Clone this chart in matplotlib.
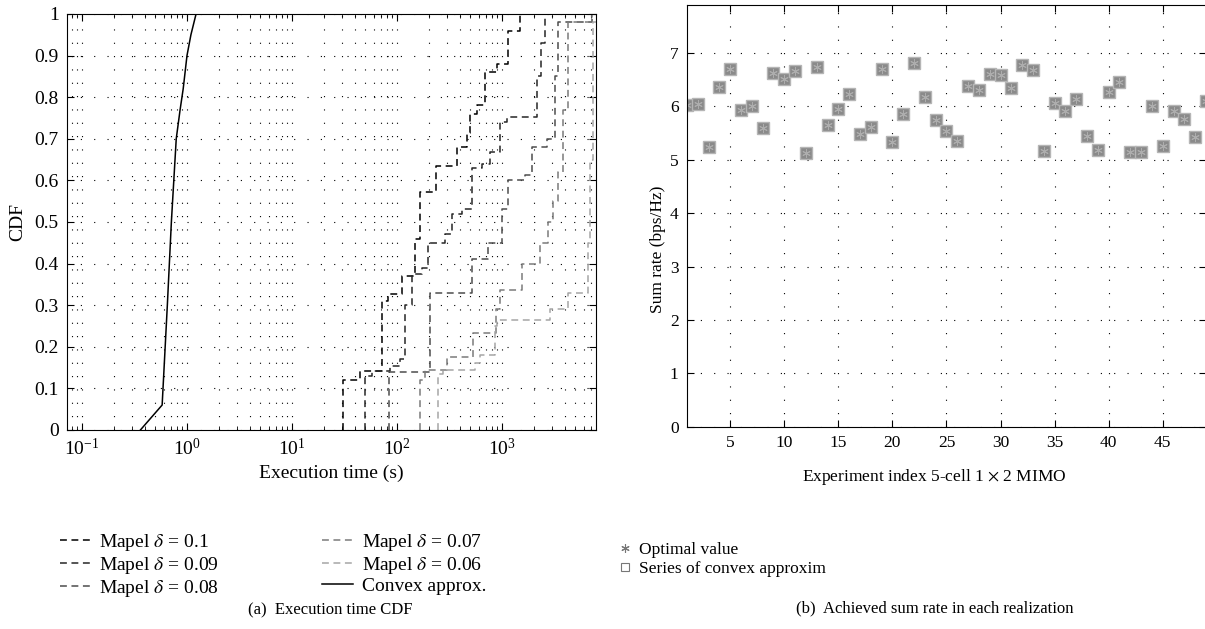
import numpy as np
import matplotlib
matplotlib.use("Agg")
import matplotlib.pyplot as plt
from matplotlib.lines import Line2D

plt.rcParams['font.family'] = 'serif'
plt.rcParams['font.serif'] = ['Liberation Serif', 'DejaVu Serif']
plt.rcParams['mathtext.fontset'] = 'stix'
plt.rcParams['font.size'] = 14

# ---- left panel: execution time CDF (time in s, CDF level after each step)
t_d010 = [30.6, 44.4, 72, 82, 112, 148, 166, 235, 373, 464, 496, 578, 689, 896, 1140, 1483]
c_d010 = [0.12, 0.142, 0.31, 0.327, 0.37, 0.46, 0.573, 0.635, 0.68, 0.715, 0.76, 0.78, 0.86, 0.88, 0.96, 1.0]

t_d009 = [49.6, 57.8, 85.8, 107, 119, 139, 173, 197, 286, 334, 416, 518, 645, 769, 957, 1116, 2154, 2350, 2570]
c_d009 = [0.13, 0.142, 0.155, 0.17, 0.30, 0.375, 0.39, 0.45, 0.47, 0.52, 0.53, 0.63, 0.64, 0.668, 0.74, 0.753, 0.85, 0.93, 1.0]

t_d008 = [83.9, 206, 518, 736, 1000, 1140, 1656, 1931, 2683, 3199, 3415, 7197]
c_d008 = [0.14, 0.33, 0.41, 0.45, 0.53, 0.60, 0.613, 0.68, 0.70, 0.85, 0.98, 1.0]

t_d007 = [166, 185, 299, 529, 877, 957, 1549, 2300, 2742, 3060, 3415, 3811, 4256, 7197]
c_d007 = [0.12, 0.144, 0.176, 0.233, 0.29, 0.336, 0.40, 0.45, 0.50, 0.55, 0.62, 0.77, 0.98, 1.0]

t_d006 = [245, 274, 553, 617, 857, 896, 2865, 4256, 6590, 6890, 7360]
c_d006 = [0.135, 0.144, 0.16, 0.18, 0.25, 0.265, 0.29, 0.33, 0.45, 0.65, 0.98]

t_cvx = [0.36, 0.58, 0.65, 0.71, 0.79, 0.86, 0.92, 1.0, 1.09, 1.22, 8000]
c_cvx = [0.0, 0.06, 0.3, 0.5, 0.7, 0.77, 0.82, 0.9, 0.95, 1.0, 1.0]

mapel_labels = ['0.1', '0.09', '0.08', '0.07', '0.06']
mapel_colors = ['#000000', '#262626', '#4d4d4d', '#7a7a7a', '#a6a6a6']

# ---- right panel: sum rate per experiment
idx = np.arange(1, 50)
rate = [6.02, 6.04, 5.24, 6.37, 6.70, 5.94, 6.00, 5.59, 6.62, 6.52,
        6.66, 5.12, 6.73, 5.65, 5.96, 6.23, 5.49, 5.62, 6.71, 5.33,
        5.86, 6.82, 6.17, 5.75, 5.54, 5.36, 6.39, 6.30, 6.61, 6.58,
        6.34, 6.77, 6.69, 5.17, 6.06, 5.91, 6.14, 5.44, 5.19, 6.28,
        6.46, 5.14, 5.14, 6.00, 5.26, 5.92, 5.76, 5.42, 6.10]

fig = plt.figure(figsize=(12.05, 6.29), dpi=100)
dots = (0, (1, 11))
dash = (0, (4.5, 3))

ax1 = fig.add_axes([0.0556, 0.3164, 0.4390, 0.6614])
series = [(t_d010, c_d010), (t_d009, c_d009), (t_d008, c_d008),
          (t_d007, c_d007), (t_d006, c_d006)]
handles = []
for (t, c), lab, col in zip(series, mapel_labels, mapel_colors):
    x = [t[0]] + list(t) + [1e5]
    y = [0.0] + list(c) + [c[-1]]
    ax1.step(x, y, where='post', color=col, lw=1.1, linestyle=dash)
    handles.append(Line2D([], [], color=col, lw=1.1, linestyle=dash,
                          label=r'Mapel $\delta$ = ' + lab))
ax1.plot(t_cvx, c_cvx, color='k', lw=1.1)
handles.append(Line2D([], [], color='k', lw=1.1, label='Convex approx.'))

ax1.set_xscale('log')
ax1.set_xlim(0.072, 7850)
ax1.set_ylim(0, 1)
ax1.set_yticks(np.arange(0, 1.01, 0.1))
ax1.set_yticklabels(['0', '0.1', '0.2', '0.3', '0.4', '0.5', '0.6', '0.7', '0.8', '0.9', '1'])
ax1.grid(True, which='major', linestyle=dots, color='k', lw=0.8)
ax1.grid(True, which='minor', axis='x', linestyle=dots, color='k', lw=0.8)
ax1.tick_params(which='both', direction='in', top=True, right=True, pad=6)
ax1.tick_params(which='major', length=5)
ax1.tick_params(which='minor', length=3)
ax1.set_xlabel('Execution time (s)', labelpad=4)
ax1.set_ylabel('CDF', labelpad=6)

fig.legend(handles=handles, ncol=2, frameon=False, loc='upper left',
           bbox_to_anchor=(0.043, 0.167), handlelength=1.6, handletextpad=0.45,
           columnspacing=5.3, labelspacing=0.1, borderaxespad=0)
fig.text(0.274, 0.030, '(a)  Execution time CDF', ha='center', va='center',
         fontsize=12)

fs2 = 12.5
ax2 = fig.add_axes([0.5701, 0.3216, 0.4307, 0.6704])
ax2.plot(idx, rate, linestyle='none', marker='s', ms=9, mfc='#8a8a8a',
         mec='#b5b5b5', mew=1.0)
ax2.plot(idx, rate, linestyle='none', marker=(6, 2, 0), ms=6, mec='#adadad',
         mew=0.7)
ax2.set_xlim(1, 49)
ax2.set_ylim(0, 7.9)
ax2.set_xticks(range(5, 50, 5))
ax2.set_yticks(range(0, 8))
ax2.grid(True, linestyle=dots, color='k', lw=0.8)
ax2.tick_params(direction='in', top=True, right=True, length=5, pad=6,
                labelsize=fs2)
ax2.set_xlabel(r'Experiment index 5-cell 1 $\times$ 2 MIMO', fontsize=fs2)
ax2.xaxis.set_label_coords(0.476, -0.095)
ax2.set_ylabel('Sum rate (bps/Hz)', fontsize=fs2)
ax2.yaxis.set_label_coords(-0.040, 0.42)

h_opt = Line2D([], [], linestyle='none', marker=(6, 2, 0), ms=6, mec='#777777',
               mew=0.8, label='Optimal value')
h_ser = Line2D([], [], linestyle='none', marker='s', ms=6, mfc='white',
               mec='#777777', mew=0.8, label='Series of convex approxim')
fig.legend(handles=[h_opt, h_ser], frameon=False, loc='upper left',
           bbox_to_anchor=(0.509, 0.150), handlelength=0.6, fontsize=fs2,
           handletextpad=0.5, labelspacing=0.2, borderaxespad=0)
fig.text(0.776, 0.033, '(b)  Achieved sum rate in each realization', ha='center',
         va='center', fontsize=12)

fig.savefig('out.png', dpi=100)
